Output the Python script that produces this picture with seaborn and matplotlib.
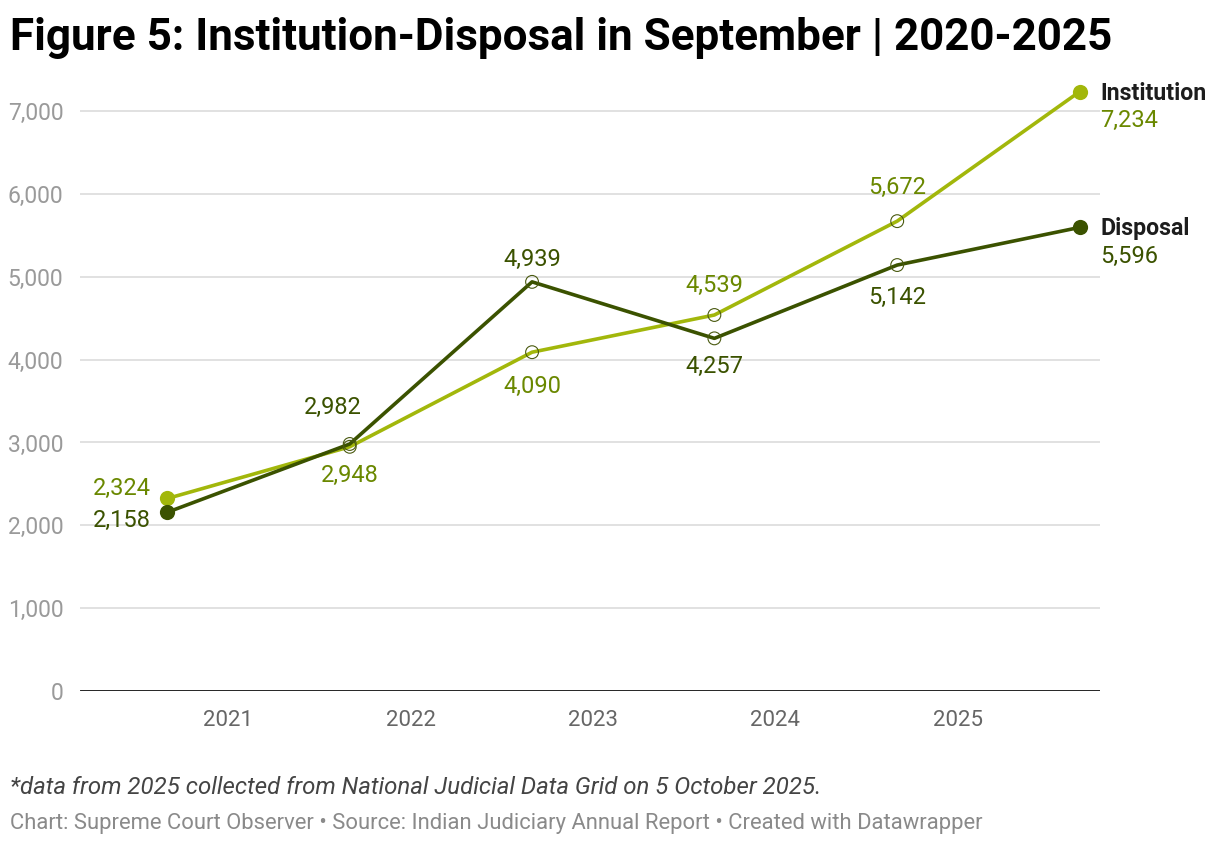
import matplotlib
matplotlib.use("Agg")
import matplotlib.pyplot as plt
import matplotlib.ticker as mticker
import seaborn as sns
import pandas as pd

# data
dates = ["2020-09-01", "2021-09-01", "2022-09-01", "2023-09-01", "2024-09-01", "2025-09-01"]
institution = [2324, 2948, 4090, 4539, 5672, 7234]
disposal = [2158, 2982, 4939, 4257, 5142, 5596]
year_ticks = ["2021", "2022", "2023", "2024", "2025"]
y_ticks = [0, 1000, 2000, 3000, 4000, 5000, 6000, 7000]

# label offsets (points) for each point, excluding last (legend labels there)
inst_offsets = [(-12, 7), (0, -21), (0, -25), (0, 21), (0, 24)]
disp_offsets = [(-12, -6), (-12, 26), (0, 16), (0, -20), (0, -23)]
inst_ha = ["right", "center", "center", "center", "center"]
disp_ha = ["right", "center", "center", "center", "center"]

INST = "#a2b70b"
INST_TXT = "#6a8800"
DISP = "#3b5200"
DISP_TXT = "#3b5200"

sns.set_theme(style="white")
plt.rcParams["font.family"] = ["Roboto", "DejaVu Sans"]

df = pd.DataFrame({
    "date": pd.to_datetime(dates),
    "Institution": institution,
    "Disposal": disposal,
})

fig = plt.figure(figsize=(12.2, 8.46), dpi=100)
ax = fig.add_axes([80 / 1220, 155 / 846, 1020 / 1220, (691 - 78) / 846])

for ax_y in y_ticks[1:]:
    ax.axhline(ax_y, color="#e1e1e1", lw=1.4, zorder=0)
ax.axhline(0, color="#111111", lw=2.0, zorder=1)

for col, c in [("Institution", INST), ("Disposal", DISP)]:
    sns.lineplot(data=df, x="date", y=col, color=c, lw=2.6, ax=ax, zorder=3)
    ends = df.iloc[[0, -1]]
    ax.scatter(ends["date"], ends[col], s=120, color=c, zorder=4, clip_on=False, linewidths=0)
    mids = df.iloc[1:-1]
    ax.scatter(mids["date"], mids[col], s=85, facecolors="none",
               edgecolors="#4a5a10", linewidths=0.8, zorder=5)

def label_points(values, offsets, aligns, color):
    for d, v, (dx, dy), ha in zip(df["date"][:-1], values[:-1], offsets, aligns):
        ax.annotate(f"{v:,}", (d, v), xytext=(dx, dy), textcoords="offset points",
                    ha=ha, va="center", fontsize=17, color=color, zorder=6)

label_points(institution, inst_offsets, inst_ha, INST_TXT)
label_points(disposal, disp_offsets, disp_ha, DISP_TXT)

# end labels (direct legend)
for name, vals, c in [("Institution", institution, INST_TXT), ("Disposal", disposal, DISP_TXT)]:
    d, v = df["date"].iloc[-1], vals[-1]
    ax.annotate(name, (d, v), xytext=(15, -1), textcoords="offset points",
                ha="left", va="center", fontsize=16.7, fontweight="bold",
                color="#1d1d1d", annotation_clip=False)
    ax.annotate(f"{v:,}", (d, v), xytext=(15, -21), textcoords="offset points",
                ha="left", va="center", fontsize=17, color=c, annotation_clip=False)

ax.set_ylim(0, 7400)
ax.set_xlim(pd.Timestamp("2020-03-10"), pd.Timestamp("2025-10-12"))
ax.set_yticks(y_ticks)
ax.yaxis.set_major_formatter(mticker.FuncFormatter(lambda v, p: f"{int(v):,}"))
ax.set_xticks(pd.to_datetime([f"{y}-01-01" for y in year_ticks]))
ax.set_xticklabels(year_ticks)
ax.tick_params(axis="y", length=0, pad=12, labelsize=16.5, labelcolor="#9a9a9a")
ax.tick_params(axis="x", length=0, pad=14, labelsize=16, labelcolor="#666666")
ax.set_xlabel("")
ax.set_ylabel("")
ax.grid(False)
for s in ax.spines.values():
    s.set_visible(False)

fig.text(10 / 1220, 1 - 50 / 846, "Figure 5: Institution-Disposal in September | 2020-2025",
         fontsize=31.7, fontweight="bold", color="#000000", va="baseline", ha="left")
fig.text(10 / 1220, 1 - 794 / 846,
         "*data from 2025 collected from National Judicial Data Grid on 5 October 2025.",
         fontsize=17.3, fontstyle="italic", color="#444444", va="baseline", ha="left")
fig.text(10 / 1220, 1 - 829 / 846,
         "Chart: Supreme Court Observer \u2022 Source: Indian Judiciary Annual Report \u2022 Created with Datawrapper",
         fontsize=15.8, color="#8a8a8a", va="baseline", ha="left")

fig.savefig("out.png", dpi=100, facecolor="white")
plt.close(fig)
